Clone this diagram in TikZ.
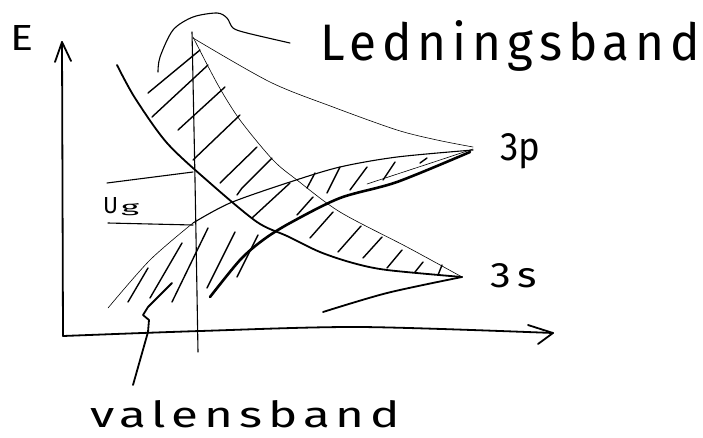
\documentclass[tikz,border=0pt]{standalone}
\usepackage{fontspec}
\usepackage{graphicx}
\setmainfont{Fira Sans}
\newfontfamily\handfont[LetterSpace=12]{Fira Sans}
\newfontfamily\plainfont{Fira Sans}
\begin{document}
\begin{tikzpicture}[x=1pt,y=-1pt,line cap=round,line join=round,
  thinline/.style={line width=0.6pt},
  medline/.style={line width=1.1pt},
  thickline/.style={line width=1.8pt},
  heavyline/.style={line width=2.6pt},
  hatchline/.style={line width=1.4pt},
  handlabel/.style={inner sep=0pt,anchor=base west,font=\handfont},
  shortlabel/.style={inner sep=0pt,anchor=base west,font=\plainfont}]
\useasboundingbox (0,0) rectangle (703,437);
% axes
\coordinate (orig) at (63,336);
\coordinate (ytop) at (62,42);
\coordinate (xend) at (553,333);
\draw[thickline] (orig) -- (ytop);
\draw[thickline] (55,62) -- (ytop) -- (71,61);
\draw[thickline] plot[smooth] coordinates {(63,336) (200,331) (360,327) (553,333)};
\draw[thickline] (528,325) -- (xend) -- (538,344);
% vertical marker
\draw[medline] plot[smooth] coordinates {(192,32) (195,180) (198,352)};
% 3p upper (thin)
\draw[thinline] plot[smooth] coordinates {(193,38) (270,82) (333,107) (397,130) (437,140) (473,147)};
% 3s upper (thin)
\draw[thinline] plot[smooth] coordinates {(193,37) (218,85) (240,120) (273,160) (297,180) (340,212) (407,247) (462,277)};
% 3s lower thick
\draw[thickline] plot[smooth] coordinates {(117,65) (135,98) (167,143) (210,183) (257,222) (287,236) (320,252) (353,263) (387,270) (462,277)};
% 3s lowest
\draw[thickline] plot[smooth] coordinates {(323,312) (387,293) (462,277)};
% 3p medium
\draw[medline] plot[smooth] coordinates {(473,150) (397,157) (340,167) (290,182) (230,203) (193,223)};
\draw[thinline] plot[smooth] coordinates {(193,223) (150,260) (108,308)};
% 3p heavy
\draw[heavyline] plot[smooth] coordinates {(470,152) (397,182) (340,198) (290,223) (263,240) (240,260) (210,297)};
% 3p thin inner
\draw[thinline] plot[smooth] coordinates {(473,149) (440,160) (367,184)};
% Ug lines
\draw[medline] (107,183) -- (193,172);
\draw[medline] (108,223) -- (193,225);
% hatching
\foreach \a/\b in {{(148,93)}/{(200,50)},{(152,117)}/{(208,65)},{(178,130)}/{(225,87)},
  {(193,160)}/{(240,115)},{(220,183)}/{(257,147)},{(252,218)}/{(290,183)},{(297,215)}/{(313,197)},
  {(307,188)}/{(315,173)},{(327,193)}/{(340,167)},{(350,190)}/{(367,167)},{(383,180)}/{(395,162)},{(420,163)}/{(427,158)},
  {(310,238)}/{(333,212)},{(338,252)}/{(361,226)},{(363,258)}/{(382,237)},{(387,268)}/{(402,250)},{(415,272)}/{(423,262)},{(438,275)}/{(442,265)},
  {(128,302)}/{(148,268)},{(150,298)}/{(182,243)},{(172,302)}/{(208,228)},{(207,288)}/{(235,232)},{(237,277)}/{(258,235)}}
  \draw[hatchline] \a -- \b;
\draw[hatchline] (237,195) -- (242,188) -- (272,158);
% pointers
\draw[medline] plot[smooth] coordinates {(158,72) (160,57) (173,30) (193,17) (217,13) (227,18) (233,28) (247,33) (290,43)};
\draw[thickline] (133,385) -- (148,332) -- (149,320) -- (143,315) -- (148,307) -- (172,283);
% labels
\node[shortlabel] (elabel) at (10,50) {\resizebox{23pt}{25pt}{E}};
\node[handlabel] (ledning) at (320,60) {\resizebox{380pt}{40pt}{Ledningsband}};
\node[shortlabel] (p3) at (500,160) {\resizebox{40pt}{27pt}{3p}};
\node[shortlabel] (s3) at (490,287) {\resizebox{47pt}{24pt}{3\,s}};
\node[handlabel] (valens) at (90,427) {\resizebox{310pt}{27pt}{valensband}};
\node[shortlabel] (ulabel) at (103,213) {\resizebox{15pt}{16pt}{U}};
\node[shortlabel] (glabel) at (121,212) {\resizebox{18pt}{9pt}{g}};
\end{tikzpicture}
\end{document}
